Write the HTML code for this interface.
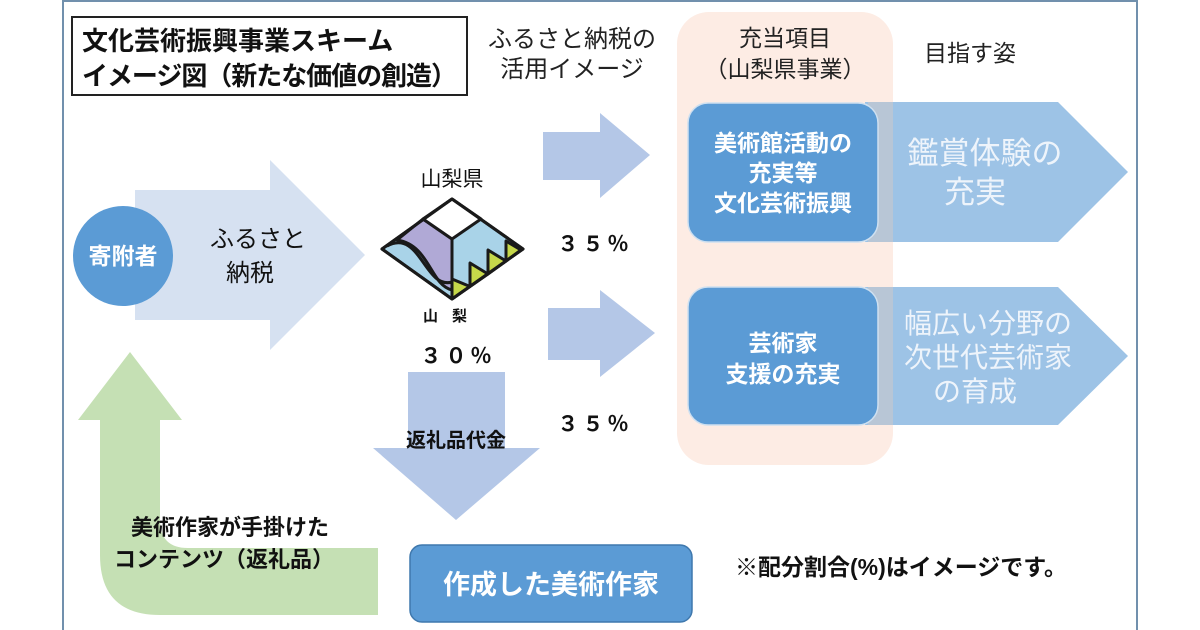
<!DOCTYPE html>
<html><head><meta charset="utf-8"><style>
html,body{margin:0;padding:0;background:#fff;}
svg{display:block;}
text{font-family:"Liberation Sans","Noto Sans CJK JP",sans-serif;}
</style></head><body>
<svg width="1200" height="630" viewBox="0 0 1200 630" xmlns="http://www.w3.org/2000/svg">
<rect x="0" y="0" width="1200" height="630" fill="#fff"/>
<line x1="63" y1="0" x2="63" y2="630" stroke="#7190ad" stroke-width="2"/>
<line x1="1137" y1="0" x2="1137" y2="630" stroke="#7190ad" stroke-width="2"/>
<line x1="63" y1="1" x2="1137" y2="1" stroke="#7190ad" stroke-width="2"/>
<rect x="72" y="17" width="395" height="78" fill="#fff" stroke="#222" stroke-width="2"/>
<text x="82" y="50" font-size="26" font-weight="bold" fill="#111">文化芸術振興事業スキーム</text>
<text x="82" y="85" font-size="26" font-weight="bold" fill="#111" textLength="375">イメージ図（新たな価値の創造）</text>
<text x="572" y="47" font-size="24" text-anchor="middle" fill="#222">ふるさと納税の</text>
<text x="572" y="77" font-size="24" text-anchor="middle" fill="#222">活用イメージ</text>
<rect x="677" y="12" width="216" height="453" rx="32" fill="#fdece4"/>
<text x="785" y="46" font-size="23" text-anchor="middle" fill="#222">充当項目</text>
<text x="785" y="77" font-size="23" text-anchor="middle" fill="#222">（山梨県事業）</text>
<text x="970" y="61" font-size="23" text-anchor="middle" fill="#222">目指す姿</text>
<polygon points="865,102 1058,102 1128,172 1058,242 865,242" fill="#9dc3e6"/>
<polygon points="865,287 1058,287 1128,356 1058,425 865,425" fill="#9dc3e6"/>
<rect x="868" y="102" width="25" height="140" fill="#b8c6d6"/>
<rect x="868" y="287" width="25" height="138" fill="#b8c6d6"/>
<text x="985" y="164" font-size="31" text-anchor="middle" fill="#eef4fb">鑑賞体験の</text>
<text x="975" y="203" font-size="31" text-anchor="middle" fill="#eef4fb">充実</text>
<text x="988" y="333" font-size="28" text-anchor="middle" fill="#eef4fb">幅広い分野の</text>
<text x="988" y="367" font-size="28" text-anchor="middle" fill="#eef4fb">次世代芸術家</text>
<text x="975" y="401" font-size="28" text-anchor="middle" fill="#eef4fb">の育成</text>
<rect x="688" y="103" width="190" height="139" rx="20" fill="#5b9bd5" stroke="#cfe0f0" stroke-width="1.5"/>
<text x="783" y="151" font-size="23" font-weight="bold" text-anchor="middle" fill="#fff">美術館活動の</text>
<text x="783" y="181" font-size="23" font-weight="bold" text-anchor="middle" fill="#fff">充実等</text>
<text x="783" y="211" font-size="23" font-weight="bold" text-anchor="middle" fill="#fff">文化芸術振興</text>
<rect x="688" y="287" width="190" height="138" rx="20" fill="#5b9bd5" stroke="#cfe0f0" stroke-width="1.5"/>
<text x="783" y="351" font-size="23" font-weight="bold" text-anchor="middle" fill="#fff">芸術家</text>
<text x="783" y="382" font-size="23" font-weight="bold" text-anchor="middle" fill="#fff">支援の充実</text>
<polygon points="135,190 270,190 270,160 365,255 270,350 270,320 135,320" fill="#d6e1f1"/>
<circle cx="123" cy="256" r="50" fill="#5b9bd5"/>
<text x="123" y="264" font-size="23" font-weight="bold" text-anchor="middle" fill="#fff">寄附者</text>
<text x="258" y="247" font-size="24" text-anchor="middle" fill="#111">ふるさと</text>
<text x="250" y="281" font-size="24" text-anchor="middle" fill="#111">納税</text>
<polygon points="543,132 600,132 600,113 650,155 600,198 600,180 543,180" fill="#b4c7e7"/>
<polygon points="548,308 600,308 600,290 655,333 600,377 600,360 548,360" fill="#b4c7e7"/>
<text x="595" y="251" font-size="21" font-weight="bold" text-anchor="middle" fill="#111" letter-spacing="4">３５％</text>
<text x="595" y="431" font-size="21" font-weight="bold" text-anchor="middle" fill="#111" letter-spacing="4">３５％</text>
<text x="458" y="363" font-size="21" font-weight="bold" text-anchor="middle" fill="#111" letter-spacing="4">３０％</text>
<text x="452" y="186" font-size="21" text-anchor="middle" fill="#111">山梨県</text>
<g stroke="#1a1a1a" stroke-width="3" stroke-linejoin="round">
<polygon points="452,199 523,249 452,299 382,249" fill="#a9d3e8"/>
<path d="M423,219 L452,239 L452,290 C430,285 430,245 397,240 Z" fill="#b0a9d6"/>
<polygon points="452,199 481,219 452,239 423,219" fill="#fff"/>
<path d="M387,246 C420,228 425,290 452,282" fill="none"/>
<line x1="452" y1="239" x2="452" y2="299"/>
<polygon points="452,279 452,299 470,286.5" fill="#c6d84a"/>
<polygon points="470,263 470,286.5 488,274" fill="#c6d84a"/>
<polygon points="488,250 488,274 506,261" fill="#c6d84a"/>
<polygon points="506,241 506,261 521,250" fill="#c6d84a"/>
<polygon points="452,199 523,249 452,299 382,249" fill="none"/>
</g>
<text x="452" y="321" font-size="15" font-weight="bold" text-anchor="middle" fill="#111" letter-spacing="14">山梨</text>
<polygon points="408,372 505,372 505,448 540,448 456,520 373,448 408,448" fill="#b4c7e7"/>
<text x="456" y="447" font-size="20" font-weight="bold" text-anchor="middle" fill="#111">返礼品代金</text>
<path d="M130,352 L182,420 L160,420 L160,520 Q160,548 188,548 L378,548 L378,615 L160,615 Q100,615 100,555 L100,420 L78,420 Z" fill="#c5e0b4"/>
<text x="230" y="535" font-size="22" font-weight="bold" text-anchor="middle" fill="#111">美術作家が手掛けた</text>
<text x="224" y="567" font-size="22" font-weight="bold" text-anchor="middle" fill="#111">コンテンツ（返礼品）</text>
<rect x="410" y="545" width="282" height="77" rx="12" fill="#5b9bd5" stroke="#3f78ad" stroke-width="1.5"/>
<text x="551" y="594" font-size="27" font-weight="bold" text-anchor="middle" fill="#fff">作成した美術作家</text>
<text x="735" y="575" font-size="23" font-weight="bold" fill="#111">※配分割合(%)はイメージです。</text>
</svg>
</body></html>
